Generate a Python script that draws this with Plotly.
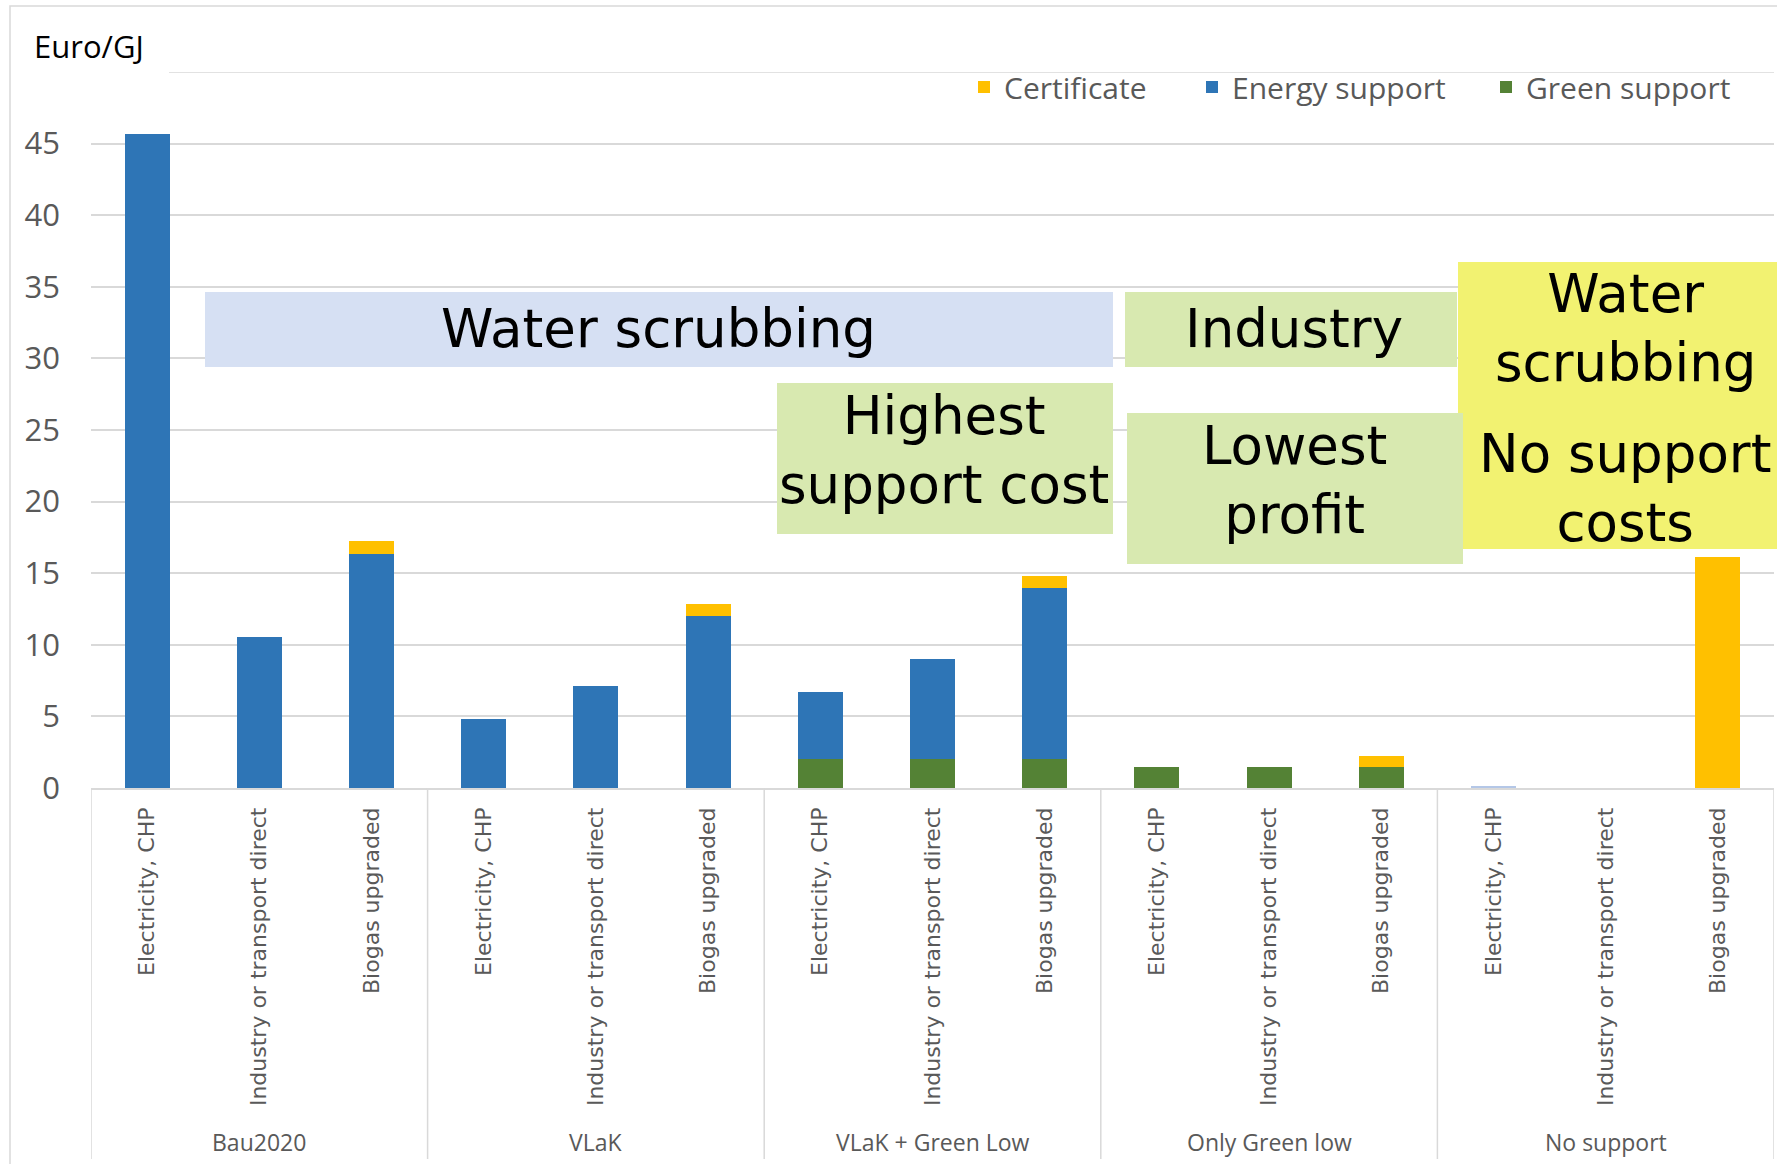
import plotly.graph_objects as go

# ---------------- data ----------------
groups = ["Bau2020", "VLaK", "VLaK + Green Low", "Only Green low", "No support"]
subcats = ["Electricity, CHP", "Industry or transport direct", "Biogas upgraded"]

green_support = [0, 0, 0, 0, 0, 0, 2.0, 2.0, 2.0, 1.45, 1.45, 1.45, 0, 0, 0]
energy_support = [45.7, 10.55, 16.35, 4.8, 7.1, 12.0, 4.7, 7.0, 12.0, 0, 0, 0, 0.12, 0, 0]
certificate = [0, 0, 0.92, 0, 0, 0.88, 0, 0, 0.8, 0, 0, 0.8, 0, 0, 16.1]

y_ticks = [0, 5, 10, 15, 20, 25, 30, 35, 40, 45]

# ---------------- layout helpers ----------------
W, H = 1777, 1164
ML, MR, MT, MB = 91, 3, 72, 376


def px_x(px):
    return (px - ML) / (W - ML - MR)


def px_y(py):
    return (H - MB - py) / (H - MT - MB)


n = len(groups) * len(subcats)
xpos = list(range(n))
ticktext = [subcats[i % len(subcats)] for i in range(n)]

C_CERT = "#ffc000"
C_ENERGY = "#2e75b6"
C_GREEN = "#548235"
GRID = "#d9d9d9"
TXT = "#595959"

energy_colors = [C_ENERGY if v >= 0.5 or v == 0 else "#b4c7e7" for v in energy_support]

fig = go.Figure()
fig.add_trace(go.Bar(x=xpos, y=green_support, name="Green support",
                     marker=dict(color=C_GREEN, line=dict(width=0)), legendwidth=200))
fig.add_trace(go.Bar(x=xpos, y=energy_support, name="Energy support",
                     marker=dict(color=energy_colors, line=dict(width=0)), legendwidth=249))
fig.add_trace(go.Bar(x=xpos, y=certificate, name="Certificate",
                     marker=dict(color=C_CERT, line=dict(width=0)), legendwidth=183))

shapes = []
# outer chart border
shapes.append(dict(type="rect", xref="paper", yref="paper",
                   x0=px_x(10), x1=px_x(W + 6), y0=px_y(H + 6), y1=px_y(6),
                   line=dict(color=GRID, width=1.5), fillcolor="rgba(0,0,0,0)", layer="below"))
# top (50) gridline, starting right of the unit label
shapes.append(dict(type="line", xref="paper", yref="y", x0=px_x(169), x1=1, y0=50, y1=50,
                   line=dict(color=GRID, width=1.5), layer="below"))
# group dividers
for k in range(len(groups) + 1):
    xv = -0.5 + k * len(subcats)
    shapes.append(dict(type="line", xref="x", yref="paper", x0=xv, x1=xv,
                       y0=0, y1=px_y(1159), line=dict(color=GRID, width=1.5)))

# annotation boxes (yellow first so the green box overlaps it)
boxes = [
    ((1458, 262, W + 5, 549), "#f2f271"),
    ((205, 292, 1113, 367), "#d6e0f3"),
    ((1125, 292, 1457, 367), "#d8e9b0"),
    ((777, 383, 1113, 534), "#d8e9b0"),
    ((1127, 413, 1463, 564), "#d8e9b0"),
]
for (x0, y0, x1, y1), col in boxes:
    shapes.append(dict(type="rect", xref="paper", yref="paper",
                       x0=px_x(x0), x1=px_x(x1), y0=px_y(y1), y1=px_y(y0),
                       fillcolor=col, line=dict(width=0), layer="above"))

annotations = []
BIG = dict(family="DejaVu Sans, Verdana, sans-serif", size=53, color="black")
texts = [
    ("Water scrubbing", 658, 328),
    ("Industry", 1294, 328),
    ("Highest<br>support cost", 944, 450),
    ("Lowest<br>profit", 1294, 480),
    ("Water<br>scrubbing", 1625, 328),
    ("No support<br>costs", 1625, 488),
]
for t, xx, yy in texts:
    annotations.append(dict(text=t, xref="paper", yref="paper", x=px_x(xx), y=px_y(yy),
                            xanchor="center", yanchor="middle", showarrow=False, font=BIG))

for gi, g in enumerate(groups):
    cx = gi * len(subcats) + (len(subcats) - 1) / 2
    annotations.append(dict(text=g, xref="x", yref="paper", x=cx, y=px_y(1142),
                            xanchor="center", yanchor="middle", showarrow=False,
                            font=dict(family="Open Sans", size=23, color=TXT)))

annotations.append(dict(text="Euro/GJ", xref="paper", yref="paper", x=px_x(32), y=px_y(46),
                        xanchor="left", yanchor="middle", showarrow=False,
                        font=dict(family="Open Sans", size=31, color="black")))

fig.update_layout(
    width=W, height=H,
    margin=dict(l=ML, r=MR, t=MT, b=MB, pad=0),
    paper_bgcolor="white", plot_bgcolor="white",
    barmode="stack", bargap=0.6,
    showlegend=True,
    legend=dict(orientation="h", x=px_x(964), y=px_y(87), xanchor="left", yanchor="middle",
                traceorder="reversed", bgcolor="rgba(0,0,0,0)",
                font=dict(family="Open Sans", size=30, color=TXT)),
    xaxis=dict(range=[-0.5, n - 0.5], tickmode="array", tickvals=xpos, ticktext=ticktext,
               tickangle=-90, tickfont=dict(family="DejaVu Sans", size=22, color=TXT),
               showgrid=False, zeroline=False, showline=True, linecolor=GRID, linewidth=1.5,
               ticks="", ticklabelstandoff=9, fixedrange=True),
    yaxis=dict(range=[0, 50], tickmode="array", tickvals=y_ticks,
               tickfont=dict(family="Open Sans", size=31, color=TXT),
               showgrid=True, gridcolor=GRID, gridwidth=1.5, zeroline=False, showline=False,
               ticks="", ticklabelstandoff=30, fixedrange=True),
    shapes=shapes,
    annotations=annotations,
)

fig.write_html("out.html", config={"displayModeBar": False},
               post_script="document.body.style.margin='0';")
